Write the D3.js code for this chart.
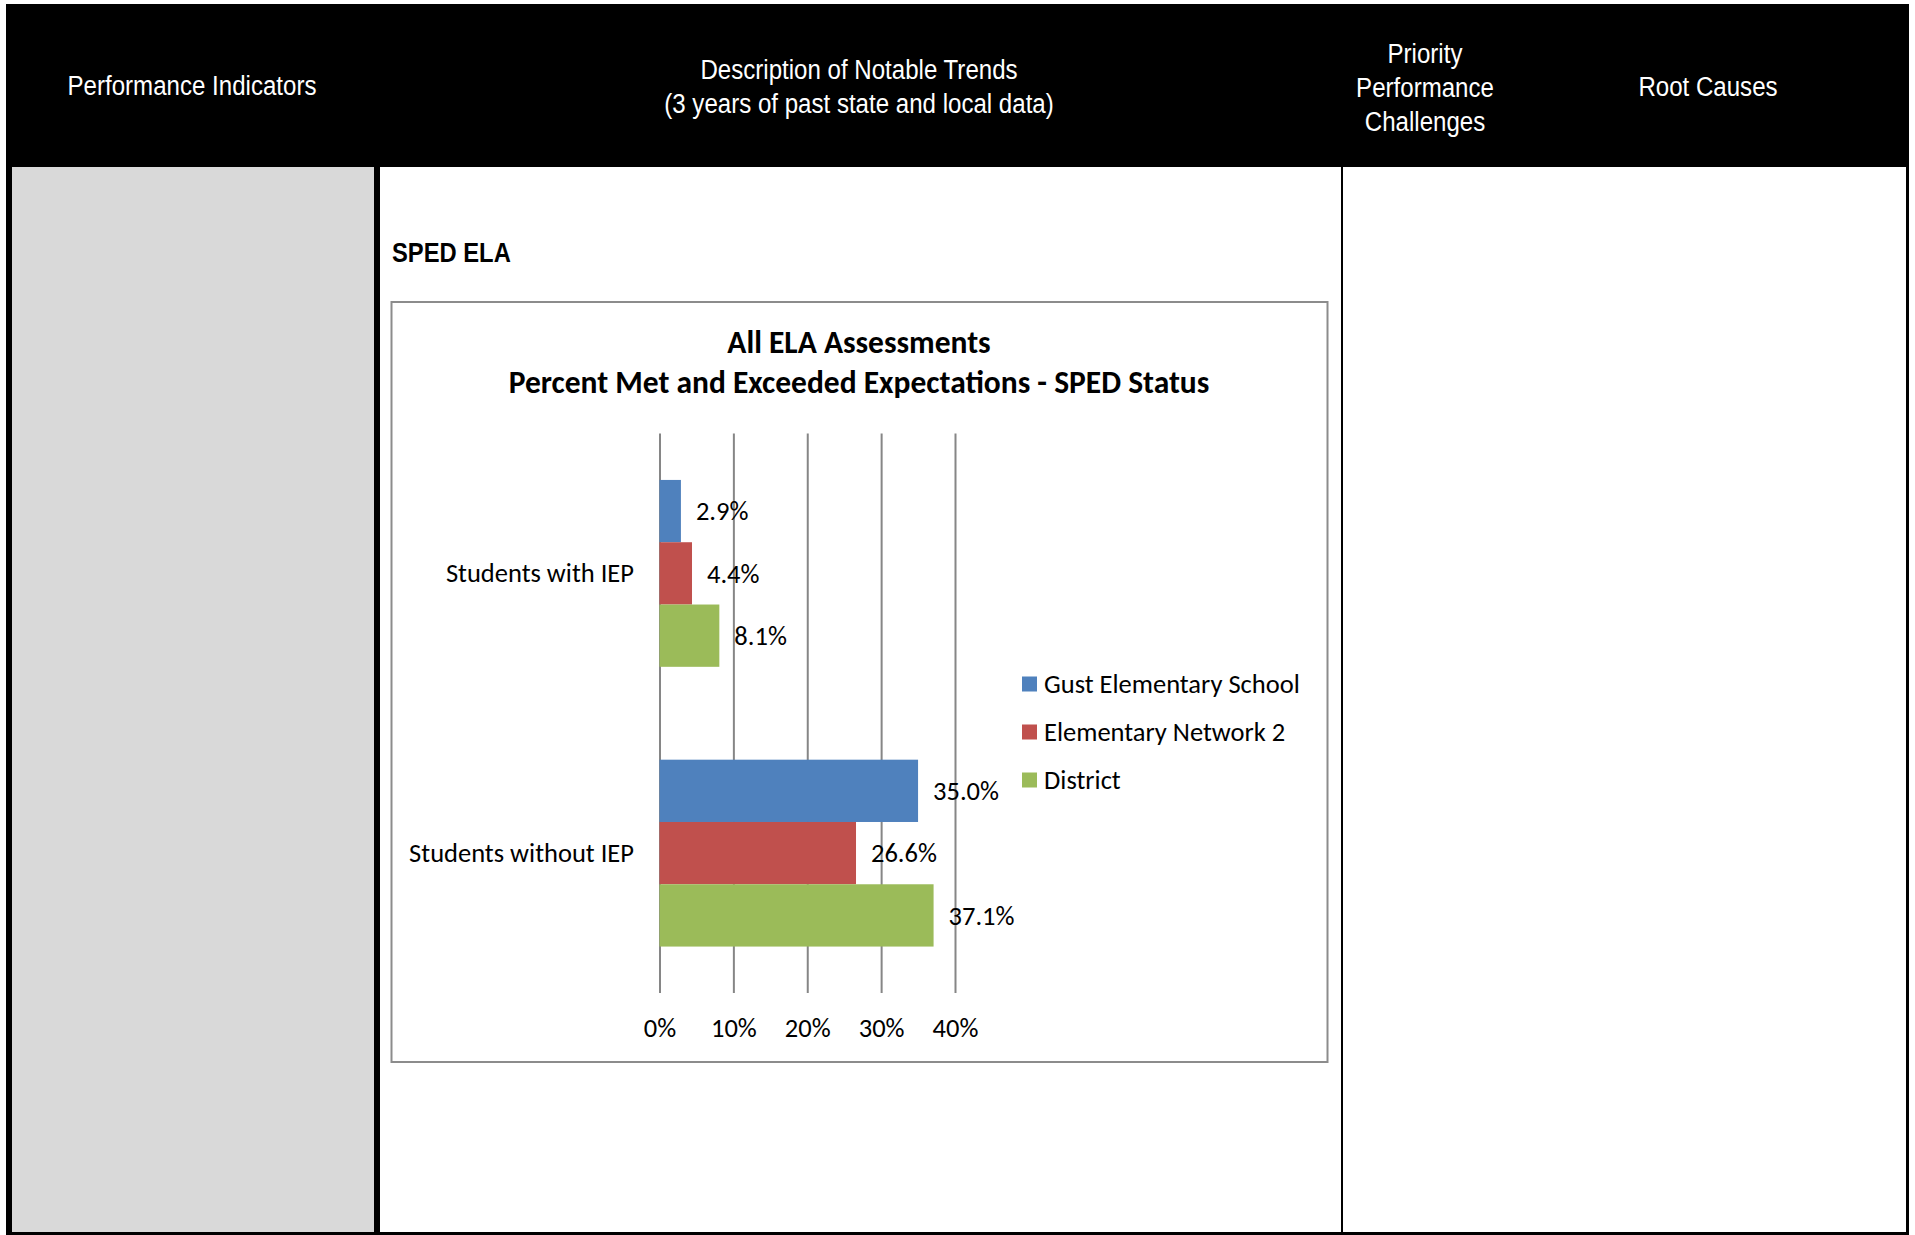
<!DOCTYPE html>
<html>
<head>
<meta charset="utf-8">
<script src="https://cdn.jsdelivr.net/npm/d3@7"></script>
<style>
    body { margin: 0; background: #fff; }
    .hdr { fill: #fff; font-family: "Liberation Sans Narrow", "Arial Narrow", "Liberation Sans", Arial, sans-serif; font-size: 28px; }
    .chartTxt { font-family: Carlito, Calibri, Lato, sans-serif; fill: #000; }
</style>
</head>
<body>
<div id="page"></div>
<script>
// chart data
const categories = ["Students with IEP", "Students without IEP"];
const seriesNames = ["Gust Elementary School", "Elementary Network 2", "District"];
const gustValues = [2.9, 35.0];
const networkValues = [4.4, 26.6];
const districtValues = [8.1, 37.1];
const xTicks = [0, 10, 20, 30, 40];
const seriesColors = ["#4F81BD", "#C0504D", "#9BBB59"];

const W = 1915, H = 1235;
const NARROW = 0.86; // squeeze Liberation Sans to look like Arial Narrow
const FS = "26.5px";   // chart body font size

function init() {
    var svg = d3.select("#page").append("svg")
        .attr("width", W)
        .attr("height", H);

    drawTable(svg);
    drawBarChart(svg);
}

function drawTable(svg) {
    // black frame + header
    svg.append("rect").attr("x", 6).attr("y", 4).attr("width", 1903).attr("height", 1231).attr("fill", "#000");
    // body cells
    svg.append("rect").attr("x", 12).attr("y", 167).attr("width", 362).attr("height", 1065).attr("fill", "#d9d9d9");
    svg.append("rect").attr("x", 380).attr("y", 167).attr("width", 961).attr("height", 1065).attr("fill", "#fff");
    svg.append("rect").attr("x", 1343).attr("y", 167).attr("width", 563).attr("height", 1065).attr("fill", "#fff");

    var heads = [
        { x: 192, lines: ["Performance Indicators"], y0: 95 },
        { x: 859, lines: ["Description of Notable Trends", "(3 years of past state and local data)"], y0: 79 },
        { x: 1425, lines: ["Priority", "Performance", "Challenges"], y0: 63 },
        { x: 1708, lines: ["Root Causes"], y0: 96 }
    ];
    heads.forEach(h => {
        var t = svg.append("g")
            .attr("transform", "translate(" + h.x + "," + h.y0 + ") scale(" + NARROW + ",1)")
            .append("text")
            .attr("class", "hdr")
            .attr("text-anchor", "middle");
        h.lines.forEach((l, i) => {
            t.append("tspan").attr("x", 0).attr("dy", i ? 34 : 0).text(l);
        });
    });
}

function drawBarChart(svg) {
    var data = categories.map((c, i) => ({
        cat: c,
        vals: [gustValues[i], networkValues[i], districtValues[i]]
    }));

    // section label
    svg.append("g")
        .attr("transform", "translate(392,262) scale(0.88,1)")
        .append("text")
        .style("font-family", '"Liberation Sans Narrow", "Arial Narrow", "Liberation Sans", Arial, sans-serif')
        .style("font-weight", "bold")
        .style("font-size", "27px")
        .text("SPED ELA");

    // chart frame
    svg.append("rect")
        .attr("x", 391.5).attr("y", 302)
        .attr("width", 936).attr("height", 760)
        .attr("fill", "#fff")
        .attr("stroke", "#8c8c8c")
        .attr("stroke-width", 2);

    // title
    var title = svg.append("text")
        .attr("class", "chartTxt")
        .attr("text-anchor", "middle")
        .style("font-weight", "bold")
        .style("font-size", "31.5px");
    title.append("tspan").attr("x", 859).attr("y", 353).text("All ELA Assessments");
    title.append("tspan").attr("x", 859).attr("y", 393).text("Percent Met and Exceeded Expectations - SPED Status");

    var x = d3.scaleLinear()
        .domain([0, 40])
        .range([659.5, 955]);

    var y = d3.scaleBand()
        .domain(categories)
        .range([433.5, 993])
        .paddingInner(0.332)
        .paddingOuter(0.166);

    var ySub = d3.scaleBand()
        .domain(seriesNames)
        .range([0, y.bandwidth()]);

    // vertical grid
    svg.append("g")
        .attr("transform", "translate(0,433.5)")
        .call(d3.axisBottom(x)
            .tickValues(xTicks)
            .tickSize(993 - 433.5)
            .tickFormat(""))
        .call(g => g.select(".domain").remove())
        .call(g => g.selectAll("line").attr("stroke", "#868686").attr("stroke-width", 2));

    // x tick labels
    svg.append("g")
        .attr("transform", "translate(0,1015)")
        .call(d3.axisBottom(x)
            .tickValues(xTicks)
            .tickSize(0)
            .tickFormat(d => d + "%"))
        .call(g => g.select(".domain").remove())
        .call(g => g.selectAll("text")
            .attr("class", "chartTxt")
            .attr("fill", "#000")
            .style("font-size", FS));

    // category labels
    svg.append("g")
        .attr("transform", "translate(634,0)")
        .call(d3.axisLeft(y).tickSize(0).tickPadding(0))
        .call(g => g.select(".domain").remove())
        .call(g => g.selectAll("text")
            .attr("class", "chartTxt")
            .attr("fill", "#000")
            .style("font-size", FS));

    // bars
    var grp = svg.selectAll(".catGrp")
        .data(data)
        .enter().append("g")
        .attr("class", "catGrp")
        .attr("transform", d => "translate(0," + y(d.cat) + ")");

    grp.selectAll(".bar")
        .data(d => d.vals.map((v, i) => ({ v: v, s: seriesNames[i], c: seriesColors[i] })))
        .enter().append("rect")
        .attr("class", "bar")
        .attr("x", x(0))
        .attr("y", d => ySub(d.s))
        .attr("width", d => x(d.v) - x(0))
        .attr("height", ySub.bandwidth())
        .attr("fill", d => d.c);

    grp.selectAll(".barTxt")
        .data(d => d.vals.map((v, i) => ({ v: v, s: seriesNames[i] })))
        .enter().append("text")
        .attr("class", "chartTxt")
        .attr("x", d => x(d.v) + 15)
        .attr("y", d => ySub(d.s) + ySub.bandwidth() / 2)
        .attr("dy", "0.35em")
        .style("font-size", FS)
        .text(d => d.v.toFixed(1) + "%");

    // legend
    var leg = svg.append("g")
        .attr("transform", "translate(1022,0)");
    var legY = d3.scalePoint()
        .domain(seriesNames)
        .range([684, 780]);
    var item = leg.selectAll(".legItem")
        .data(seriesNames)
        .enter().append("g")
        .attr("transform", d => "translate(0," + legY(d) + ")");
    item.append("rect")
        .attr("x", 0).attr("y", -7.5)
        .attr("width", 15).attr("height", 15)
        .attr("fill", (d, i) => seriesColors[i]);
    item.append("text")
        .attr("class", "chartTxt")
        .attr("x", 22)
        .attr("dy", "0.35em")
        .style("font-size", FS)
        .text(d => d);
}

init();
</script>
</body>
</html>
